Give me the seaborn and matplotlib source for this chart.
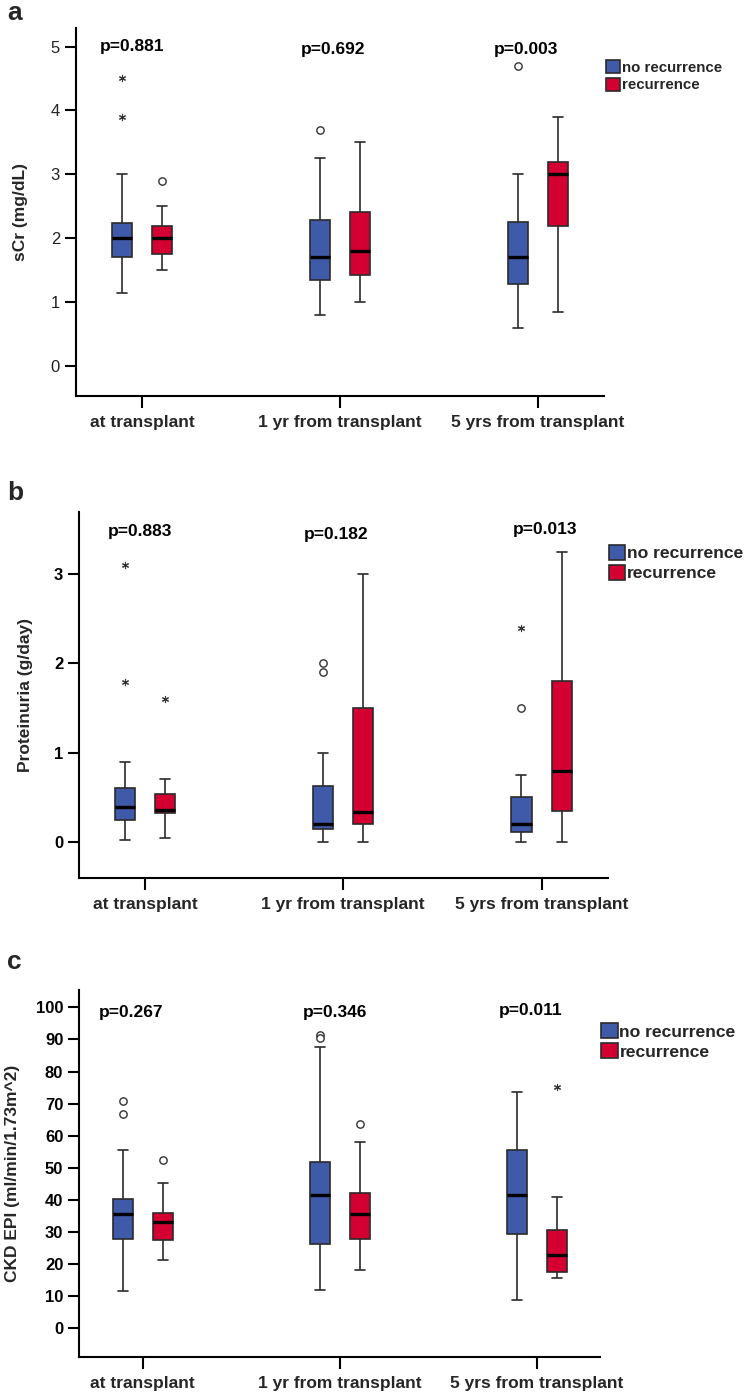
import seaborn as sns
import pandas as pd
import matplotlib.pyplot as plt
import numpy as np
from matplotlib.patches import Patch

# categories
times = ["at transplant", "1 yr from transplant", "5 yrs from transplant"]
groups = ["no recurrence", "recurrence"]
colors = {"no recurrence": "#3F5AA9", "recurrence": "#D50032"}

# five-number summaries [whisker low, q1, median, q3, whisker high] per time point
scr_no = [[1.15, 1.70, 2.00, 2.24, 3.00],
          [0.80, 1.34, 1.70, 2.28, 3.25],
          [0.60, 1.29, 1.70, 2.26, 3.00]]
scr_rec = [[1.50, 1.75, 2.00, 2.19, 2.50],
           [1.00, 1.42, 1.80, 2.41, 3.50],
           [0.85, 2.19, 3.00, 3.20, 3.90]]
scr_circles = [("at transplant", "recurrence", 2.9),
               ("1 yr from transplant", "no recurrence", 3.7),
               ("5 yrs from transplant", "no recurrence", 4.7)]
scr_stars = [("at transplant", "no recurrence", 4.5),
             ("at transplant", "no recurrence", 3.9)]
scr_p = ["p=0.881", "p=0.692", "p=0.003"]

prot_no = [[0.02, 0.25, 0.39, 0.60, 0.90],
           [0.00, 0.15, 0.20, 0.63, 1.00],
           [0.00, 0.11, 0.20, 0.50, 0.75]]
prot_rec = [[0.04, 0.32, 0.36, 0.54, 0.71],
            [0.00, 0.20, 0.34, 1.50, 3.00],
            [0.00, 0.35, 0.80, 1.80, 3.25]]
prot_circles = [("1 yr from transplant", "no recurrence", 2.0),
                ("1 yr from transplant", "no recurrence", 1.9),
                ("5 yrs from transplant", "no recurrence", 1.5)]
prot_stars = [("at transplant", "no recurrence", 3.1),
              ("at transplant", "no recurrence", 1.79),
              ("at transplant", "recurrence", 1.6),
              ("5 yrs from transplant", "no recurrence", 2.4)]
prot_p = ["p=0.883", "p=0.182", "p=0.013"]

ckd_no = [[11.4, 27.9, 35.6, 40.1, 55.5],
          [12.0, 26.2, 41.6, 51.8, 87.7],
          [8.7, 29.3, 41.6, 55.6, 73.7]]
ckd_rec = [[21.3, 27.4, 33.1, 35.8, 45.2],
           [18.2, 27.9, 35.6, 42.2, 58.0],
           [15.7, 17.6, 22.8, 30.6, 41.0]]
ckd_circles = [("at transplant", "no recurrence", 70.9),
               ("at transplant", "no recurrence", 66.7),
               ("at transplant", "recurrence", 52.3),
               ("1 yr from transplant", "no recurrence", 91.5),
               ("1 yr from transplant", "no recurrence", 90.3),
               ("1 yr from transplant", "recurrence", 63.7)]
ckd_stars = [("5 yrs from transplant", "recurrence", 75.3)]
ckd_p = ["p=0.267", "p=0.346", "p=0.011"]


def long_table(no, rec):
    rows = []
    for g, summ in zip(groups, [no, rec]):
        for t, vals in zip(times, summ):
            for v in vals:
                rows.append((t, g, v))
    return pd.DataFrame(rows, columns=["time", "group", "value"])


sns.set_theme(style="ticks")
plt.rcParams["font.family"] = ["Liberation Sans", "DejaVu Sans"]

fig = plt.figure(figsize=(7.52, 13.99), dpi=100)

panels = [
    dict(letter="a", no=scr_no, rec=scr_rec, circ=scr_circles, star=scr_stars, p=scr_p,
         rect=[0.1011, 0.7169, 0.7021, 0.2631], ylim=(-0.47, 5.29), xlim=(-0.335, 2.335),
         yticks=np.arange(0, 6, 1), ylabel="sCr (mg/dL)", ylab_x=-0.091, tickbold=False, ticksize=12,
         px=[-0.05, 0.964, 1.94], py=[4.93, 4.88, 4.89],
         leg=(1.004, 0.913), legsize=10.8, letter_y=1 - 20 / 1399),
    dict(letter="b", no=prot_no, rec=prot_rec, circ=prot_circles, star=prot_stars, p=prot_p,
         rect=[0.1055, 0.3722, 0.7027, 0.2620], ylim=(-0.407, 3.70), xlim=(-0.331, 2.334),
         yticks=np.arange(0, 4, 1), ylabel="Proteinuria (g/day)", ylab_x=-0.088, tickbold=True, ticksize=12,
         px=[-0.024, 0.964, 2.02], py=[3.43, 3.40, 3.45],
         leg=(1.002, 0.91), legsize=12.6, letter_y=1 - 500 / 1399),
    dict(letter="c", no=ckd_no, rec=ckd_rec, circ=ckd_circles, star=ckd_stars, p=ckd_p,
         rect=[0.1055, 0.0302, 0.6924, 0.2621], ylim=(-8.95, 105.4), xlim=(-0.322, 2.322),
         yticks=np.arange(0, 101, 10), ylabel="CKD EPI (ml/min/1.73m^2)", ylab_x=-0.114, tickbold=True,
         ticksize=12, px=[-0.058, 0.977, 1.97], py=[96.9, 97.1, 97.6],
         leg=(1.002, 0.91), legsize=12.6, letter_y=1 - 969 / 1399),
]

width = 0.405
dodge = {"no recurrence": -width / 4, "recurrence": width / 4}
edge = "#2b2b2b"

for pn in panels:
    ax = fig.add_axes(pn["rect"])
    df = long_table(pn["no"], pn["rec"])
    sns.boxplot(data=df, x="time", y="value", hue="group", order=times, hue_order=groups,
                palette=colors, saturation=1, width=width, gap=0.5, whis=(0, 100),
                linecolor=edge, linewidth=1.2, showfliers=False, legend=False, ax=ax,
                medianprops=dict(color="black", linewidth=2.4))

    # outliers
    for pts, marker in [(pn["circ"], "o"), (pn["star"], (6, 2, 0))]:
        if not pts:
            continue
        xs = [times.index(t) + dodge[g] for t, g, v in pts]
        ys = [v for t, g, v in pts]
        if marker == "o":
            ax.scatter(xs, ys, s=28, facecolors="white", edgecolors="#333333", linewidths=1.0, zorder=5)
        else:
            ax.scatter(xs, ys, s=20, marker=marker, color="#333333", linewidths=0.8, zorder=5)

    # p values
    for i, txt in enumerate(pn["p"]):
        ax.text(pn["px"][i], pn["py"][i], txt, ha="center", va="baseline",
                fontsize=12.5, fontweight="bold", color="black")

    ax.set_xlim(*pn["xlim"])
    ax.set_ylim(*pn["ylim"])
    ax.set_yticks(pn["yticks"])
    ax.set_xlabel("")
    ax.set_ylabel(pn["ylabel"], fontsize=12.5, fontweight="bold")
    ax.yaxis.set_label_coords(pn["ylab_x"], 0.5)
    sns.despine(ax=ax)
    for s in ["left", "bottom"]:
        ax.spines[s].set_linewidth(1.5)
        ax.spines[s].set_color("black")
    ax.tick_params(axis="y", length=8, width=1.5, pad=3.5, labelsize=pn["ticksize"], color="black")
    ax.tick_params(axis="x", length=8.5, width=1.5, pad=5, labelsize=12.5, color="black")
    for lab in ax.get_xticklabels():
        lab.set_fontweight("bold")
    for lab in ax.get_yticklabels():
        lab.set_fontweight("bold" if pn["tickbold"] else "normal")
        lab.set_color("black" if pn["tickbold"] else "#222222")

    handles = [Patch(facecolor=colors[g], edgecolor=edge, linewidth=1.2, label=g) for g in groups]
    ax.legend(handles=handles, loc="upper left", bbox_to_anchor=pn["leg"], frameon=False,
              borderaxespad=0, borderpad=0, handlelength=0.95, handleheight=0.95,
              handletextpad=0.1, labelspacing=0.2,
              prop=dict(size=pn["legsize"], weight="bold"))

    fig.text(7 / 752, pn["letter_y"], pn["letter"], fontsize=19, fontweight="bold",
             ha="left", va="baseline")

fig.savefig("out.png", dpi=100)
